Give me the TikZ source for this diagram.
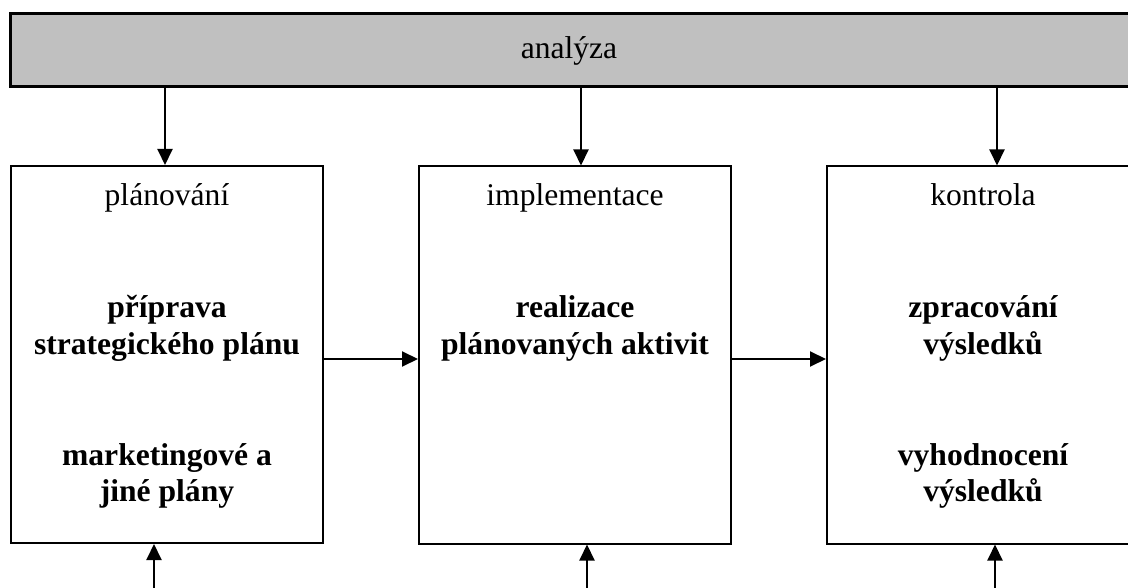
\documentclass[tikz,border=0pt]{standalone}
\usepackage{fontspec}
\setmainfont{Liberation Serif}
\usetikzlibrary{arrows.meta}
\definecolor{barfill}{RGB}{192,192,192}
\begin{document}
\begin{tikzpicture}[x=1pt,y=-1pt,
  lbl/.style={font=\fontsize{31.6}{36}\selectfont, anchor=base, inner sep=0pt},
  blbl/.style={lbl, font=\fontsize{31.6}{36}\selectfont\bfseries},
  stage/.style={draw, line width=2pt, minimum width=312pt, minimum height=377pt, inner sep=0pt},
  arr/.style={line width=2pt, -{Triangle[length=16pt,width=15pt]}}
]
\useasboundingbox (0,0) rectangle (1128,588);
\clip (0,0) rectangle (1128,588);

% analysis bar across the top
\node[draw, fill=barfill, line width=3pt, minimum width=1140pt, minimum height=73pt, inner sep=0pt]
  (bar) at (580.5,50.5) {};
\node[lbl] (barText) at (569,59) {analýza};

% the three stages
\node[stage] (plan) at (167,354.5) {};
\node[stage] (impl) at (575,355) {};
\node[stage] (ctrl) at (983,355) {};

% stage titles
\node[lbl] (planT) at (167,206) {plánování};
\node[lbl] (implT) at (575,206) {implementace};
\node[lbl] (ctrlT) at (983,206) {kontrola};

% stage contents
\node[blbl] (p1) at (167,318) {příprava};
\node[blbl] (p2) at (167,354) {strategického plánu};
\node[blbl] (p3) at (167,465) {marketingové a};
\node[blbl] (p4) at (167,501) {jiné plány};
\node[blbl] (i1) at (575,318) {realizace};
\node[blbl] (i2) at (575,354) {plánovaných aktivit};
\node[blbl] (c1) at (983,318) {zpracování};
\node[blbl] (c2) at (983,354) {výsledků};
\node[blbl] (c3) at (983,465) {vyhodnocení};
\node[blbl] (c4) at (983,501) {výsledků};

% arrow positions
\coordinate (a1) at (165,0);
\coordinate (a2) at (581,0);
\coordinate (a3) at (997,0);
\coordinate (b1) at (154,590);
\coordinate (b2) at (587,590);
\coordinate (b3) at (995,590);
\coordinate (h) at (0,359);

% from analysis down to each stage
\draw[arr] (bar.south -| a1) -- (plan.north -| a1);
\draw[arr] (bar.south -| a2) -- (impl.north -| a2);
\draw[arr] (bar.south -| a3) -- (ctrl.north -| a3);

% stage to stage
\draw[arr] (plan.east |- h) -- (impl.west |- h);
\draw[arr] (impl.east |- h) -- (ctrl.west |- h);

% feedback from below
\draw[arr] (b1) -- (plan.south -| b1);
\draw[arr] (b2) -- (impl.south -| b2);
\draw[arr] (b3) -- (ctrl.south -| b3);
\end{tikzpicture}
\end{document}
